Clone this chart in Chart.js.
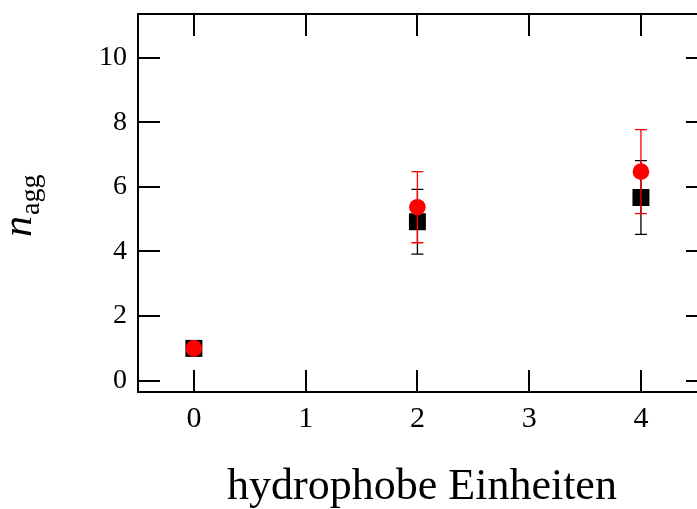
<!DOCTYPE html>
<html>
<head>
<meta charset="utf-8">
<script src="https://cdn.jsdelivr.net/npm/chart.js@4/dist/chart.umd.min.js"></script>
<style>
  html, body { margin: 0; padding: 0; background: #fff; overflow: hidden; }
  #wrap { width: 720px; height: 509px; }
</style>
</head>
<body>
<div id="wrap"><canvas id="c" width="720" height="509"></canvas></div>
<script>
// hydrophobic units on the x axis
const units = [0, 2, 4];
// aggregation number, series A (black squares) with its uncertainty
const naggA = [1.0, 4.92, 5.67];
const errA = [0, 1.0, 1.14];
// aggregation number, series B (red circles) with its uncertainty
const naggB = [1.0, 5.37, 6.47];
const errB = [0, 1.1, 1.3];
// tick values
const xTicks = [0, 1, 2, 3, 4];
const yTicks = [0, 2, 4, 6, 8, 10];

const FONT = "'Liberation Serif', 'Times New Roman', serif";

const pts = (ys, es) => units.map((x, i) => ({ x: x, y: ys[i], err: es[i] }));

// error bars for each dataset, painted right before that dataset's markers
const errorBars = {
  id: 'errorBars',
  beforeDatasetDraw(chart, args) {
    const ds = chart.data.datasets[args.index];
    const xs = chart.scales.x, ys = chart.scales.y;
    const ctx = chart.ctx;
    ctx.save();
    ctx.strokeStyle = ds.barColor;
    ctx.lineWidth = 1.3;
    ds.data.forEach(p => {
      if (!p.err) return;
      const px = xs.getPixelForValue(p.x);
      const top = ys.getPixelForValue(p.y + p.err);
      const bot = ys.getPixelForValue(p.y - p.err);
      const cap = 6;
      ctx.beginPath();
      ctx.moveTo(px, top); ctx.lineTo(px, bot);
      ctx.moveTo(px - cap, top); ctx.lineTo(px + cap, top);
      ctx.moveTo(px - cap, bot); ctx.lineTo(px + cap, bot);
      ctx.stroke();
    });
    ctx.restore();
  }
};

// closed frame with inward ticks on all four sides, plus axis titles
const frame = {
  id: 'frame',
  afterDraw(chart) {
    const { ctx, chartArea: a } = chart;
    const xs = chart.scales.x, ys = chart.scales.y;
    const tl = 22;
    ctx.save();
    ctx.strokeStyle = '#000';
    ctx.lineWidth = 2;
    ctx.strokeRect(a.left, a.top, a.right - a.left, a.bottom - a.top);
    ctx.beginPath();
    xTicks.forEach(v => {
      const px = Math.round(xs.getPixelForValue(v));
      ctx.moveTo(px, a.bottom); ctx.lineTo(px, a.bottom - tl);
      ctx.moveTo(px, a.top); ctx.lineTo(px, a.top + tl);
    });
    yTicks.forEach(v => {
      const py = Math.round(ys.getPixelForValue(v));
      ctx.moveTo(a.left, py); ctx.lineTo(a.left + tl, py);
      ctx.moveTo(a.right, py); ctx.lineTo(a.right - tl, py);
    });
    ctx.stroke();

    // x title
    ctx.fillStyle = '#000';
    ctx.font = '44px ' + FONT;
    ctx.textAlign = 'center';
    ctx.textBaseline = 'alphabetic';
    ctx.fillText('hydrophobe Einheiten', 422, 499);

    // y title: italic n with subscript "agg"
    ctx.translate(31, 237);
    ctx.rotate(-Math.PI / 2);
    ctx.textAlign = 'left';
    ctx.font = 'italic 42px ' + FONT;
    ctx.fillText('n', 0, 0);
    const w = ctx.measureText('n').width;
    ctx.font = '28px ' + FONT;
    ctx.fillText('agg', w + 1, 8);
    ctx.restore();
  }
};

new Chart(document.getElementById('c'), {
  type: 'scatter',
  data: {
    datasets: [
      {
        label: 'B',
        data: pts(naggB, errB),
        order: 0,
        pointStyle: 'circle',
        pointRadius: 8.3,
        pointHoverRadius: 8.3,
        backgroundColor: '#ff0000',
        borderColor: '#ff0000',
        borderWidth: 0,
        barColor: '#ff0000'
      },
      {
        label: 'A',
        data: pts(naggA, errA),
        order: 1,
        pointStyle: 'rect',
        pointRadius: 12,
        pointHoverRadius: 12,
        backgroundColor: '#000',
        borderColor: '#000',
        borderWidth: 0,
        barColor: '#000'
      }
    ]
  },
  options: {
    responsive: false,
    animation: false,
    events: [],
    layout: { padding: { left: 0, top: 14, right: 12, bottom: 0 } },
    plugins: { legend: { display: false }, tooltip: { enabled: false } },
    scales: {
      x: {
        type: 'linear',
        min: -0.5,
        max: 4.6,
        afterBuildTicks: s => { s.ticks = xTicks.map(v => ({ value: v })); },
        afterFit: s => { s.height = 117; s.paddingLeft = 0; s.paddingRight = 0; },
        grid: { display: false, drawTicks: false },
        border: { display: false },
        ticks: {
          color: '#000',
          padding: 9,
          font: { family: FONT, size: 30 },
          maxRotation: 0
        }
      },
      y: {
        type: 'linear',
        min: -0.35,
        max: 11.35,
        afterBuildTicks: s => { s.ticks = yTicks.map(v => ({ value: v })); },
        afterFit: s => { s.width = 138; s.paddingTop = 0; s.paddingBottom = 0; },
        grid: { display: false, drawTicks: false },
        border: { display: false },
        ticks: {
          color: '#000',
          padding: 11,
          font: { family: FONT, size: 28 }
        }
      }
    }
  },
  plugins: [errorBars, frame]
});
</script>
</body>
</html>
